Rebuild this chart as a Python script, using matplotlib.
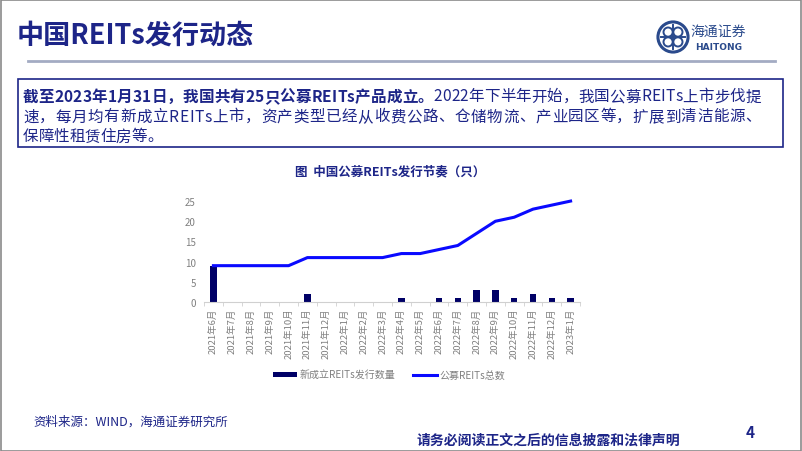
import matplotlib
matplotlib.use("Agg")
import matplotlib.pyplot as plt
from matplotlib.patches import Rectangle, Circle
from matplotlib.lines import Line2D

plt.rcParams['font.family'] = ['Noto Sans CJK SC', 'DejaVu Sans']

# data
months = ['2021年6月', '2021年7月', '2021年8月', '2021年9月', '2021年10月',
          '2021年11月', '2021年12月', '2022年1月', '2022年2月', '2022年3月',
          '2022年4月', '2022年5月', '2022年6月', '2022年7月', '2022年8月',
          '2022年9月', '2022年10月', '2022年11月', '2022年12月', '2023年1月']
new_reits = [9, 0, 0, 0, 0, 2, 0, 0, 0, 0, 1, 0, 1, 1, 3, 3, 1, 2, 1, 1]
total_reits = [9, 9, 9, 9, 9, 11, 11, 11, 11, 11, 12, 12, 13, 14, 17, 20, 21, 23, 24, 25]
y_ticks = [0, 5, 10, 15, 20, 25]

body_lines = [
    [('截至2023年1月31日，我国共有25只公募REITs产品成立。', 'bold'),
     ('2022年下半年开始，我国公募REITs上市步伐提', 'normal')],
    [('速，每月均有新成立REITs上市，资产类型已经从收费公路、仓储物流、产业园区等，扩展到清洁能源、', 'normal')],
    [('保障性租赁住房等。', 'normal')],
]

NAVY = '#1d2588'
W, H = 802, 452


def fx(px):
    return px / W


def fy(py):
    return 1 - py / H


def draw_line(fig, r, segs, x0, x1, y, size, justify):
    # draw char by char so the line can be stretched to the box width
    items = []
    for txt, weight in segs:
        for ch in txt:
            t = fig.text(0, fy(y), ch, fontsize=size, fontweight=weight, color=NAVY,
                         va='center', ha='left')
            items.append((t, t.get_window_extent(renderer=r).width))
    total = sum(w for _, w in items)
    gap = (x1 - x0 - total) / (len(items) - 1) if justify else 0
    pos = x0
    for t, w in items:
        t.set_x(fx(pos))
        pos += w + gap


def main():
    fig = plt.figure(figsize=(W / 100, H / 100), dpi=100)
    fig.patch.set_facecolor('white')

    # page frame
    fig.add_artist(Rectangle((0.0008, 0.001), 0.998, 0.997, transform=fig.transFigure,
                             fill=False, edgecolor='#8a8a8a', linewidth=1.2))

    # header
    fig.text(fx(17), fy(36), '中国REITs发行动态', fontsize=19.5, fontweight='bold',
             color=NAVY, va='center', ha='left')
    fig.add_artist(Line2D([fx(28), fx(775)], [fy(62), fy(62)], transform=fig.transFigure,
                          color='#a3abc3', linewidth=2))

    # logo
    lax = fig.add_axes([fx(655), fy(56), fx(36), fy(20) - fy(56)])
    lax.set_xlim(-1.1, 1.1)
    lax.set_ylim(-1.1, 1.1)
    lax.set_aspect('equal')
    lax.axis('off')
    lax.add_patch(Circle((0, 0), 0.92, fill=False, edgecolor='#2a4a8c', linewidth=2.2))
    for cx, cy in [(-0.3, 0.3), (0.3, 0.3), (-0.3, -0.3), (0.3, -0.3)]:
        lax.add_patch(Circle((cx, cy), 0.28, fill=False, edgecolor='#2a4a8c', linewidth=1.4))
    lax.plot([-0.75, 0.75], [0, 0], color='#2a4a8c', linewidth=1.4)
    lax.plot([0, 0], [-0.75, 0.75], color='#2a4a8c', linewidth=1.4)
    fig.text(fx(718), fy(32), '海通证券', fontsize=10, color='#2a4a8c', style='italic',
             ha='center', va='center')
    fig.text(fx(719), fy(47), 'HAITONG', fontsize=6.5, fontweight='bold', color='#2a4a8c',
             ha='center', va='center', family='DejaVu Sans')

    # text box
    fig.add_artist(Rectangle((fx(18), fy(148)), fx(783) - fx(18), fy(80) - fy(148),
                             transform=fig.transFigure, fill=False, edgecolor=NAVY,
                             linewidth=1.2))
    fig.canvas.draw()
    r = fig.canvas.get_renderer()
    for i, segs in enumerate(body_lines):
        draw_line(fig, r, segs, 23, 761, 97 + 20 * i, 11.2, i < 2)

    # chart title
    fig.text(fx(390), fy(172), '图  中国公募REITs发行节奏（只）', fontsize=9,
             fontweight='bold', color=NAVY, ha='center', va='center')

    # chart
    ax = fig.add_axes([fx(204), fy(303), fx(580) - fx(204), fy(194) - fy(303)])
    x = list(range(len(months)))
    bars = ax.bar(x, new_reits, width=0.35, color='#000066', zorder=2)
    line, = ax.plot(x, total_reits, color='#0a0aff', linewidth=2.2, zorder=3)
    ax.set_xlim(-0.5, len(months) - 0.5)
    ax.set_ylim(0, 27)
    ax.set_yticks(y_ticks)
    ax.set_xticks(x)
    ax.set_xticklabels(months, rotation=90, fontsize=6.8, color='#808080')
    ax.set_xticks([i - 0.5 for i in range(len(months) + 1)], minor=True)
    ax.tick_params(axis='x', which='major', length=0, pad=4)
    ax.tick_params(axis='x', which='minor', length=3, color='#d0d0d0', direction='out')
    ax.tick_params(axis='y', length=0, labelsize=7, labelcolor='#808080', pad=6)
    for s in ['top', 'right', 'left']:
        ax.spines[s].set_visible(False)
    ax.spines['bottom'].set_color('#d0d0d0')
    ax.patch.set_alpha(0)

    fig.legend([bars, line], ['新成立REITs发行数量', '公募REITs总数'], loc='center',
               bbox_to_anchor=(fx(389), fy(376)), ncol=2, frameon=False, fontsize=7.2,
               labelcolor='#808080', handlelength=2.4, handleheight=0.5,
               handletextpad=0.2, columnspacing=1.8)

    # footer
    fig.text(fx(33), fy(422), '资料来源：WIND，海通证券研究所', fontsize=9, color=NAVY,
             ha='left', va='center')
    fig.text(fx(548), fy(441), '请务必阅读正文之后的信息披露和法律声明', fontsize=10,
             fontweight='bold', color=NAVY, ha='center', va='center')
    fig.text(fx(750), fy(433), '4', fontsize=11, fontweight='bold', color=NAVY,
             ha='center', va='center')

    fig.savefig('out.png', dpi=100)


if __name__ == "__main__":
    main()
